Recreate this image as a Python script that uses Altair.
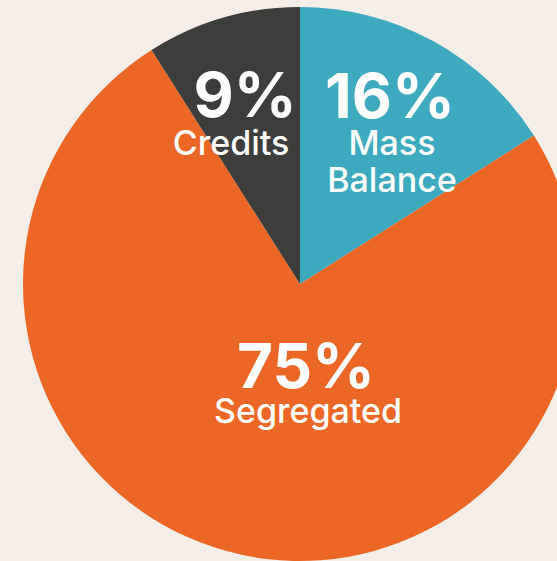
import altair as alt
import pandas as pd

categories = ["Mass Balance", "Segregated", "Credits"]
values = [16, 75, 9]
order = [1, 2, 3]
colors = ["#3DAABF", "#EC6726", "#3D3D3B"]

df = pd.DataFrame({"category": categories, "value": values, "order": order})
df["pct"] = df["value"].astype(str) + "%"

CX, CY, R = 300, 284, 277
FONT = "Inter"

base = alt.Chart(df)

pie = base.mark_arc(radius=R, stroke=None).encode(
    theta=alt.Theta("value:Q", stack=True),
    order=alt.Order("order:Q"),
    color=alt.Color("category:N", scale=alt.Scale(domain=categories, range=colors), legend=None),
    x=alt.value(CX),
    y=alt.value(CY),
)

label_pos = {
    "Credits": dict(px=245, py=117, lx=231, ly=155),
    "Mass Balance": dict(px=390, py=118, lx=392, ly=155),
    "Segregated": dict(px=306, py=388, lx=308, ly=423),
}

layers = [pie]
for cat, p in label_pos.items():
    sub = base.transform_filter(alt.datum.category == cat)
    layers.append(
        sub.mark_text(font=FONT, fontSize=62, fontWeight=700, color="white",
                      align="center", baseline="alphabetic").encode(
            text="pct:N", x=alt.value(p["px"]), y=alt.value(p["py"]))
    )
    layers.append(
        sub.mark_text(font=FONT, fontSize=34, fontWeight=500, color="white",
                      align="center", baseline="alphabetic", lineBreak=" ",
                      lineHeight=37).encode(
            text="category:N", x=alt.value(p["lx"]), y=alt.value(p["ly"]))
    )

chart = alt.layer(*layers).properties(
    width=557, height=561, padding=0, background="#F4EDE8",
    autosize=alt.AutoSizeParams(type="none"),
).configure_view(stroke=None)

chart.save("out.html", embed_options={"renderer": "svg", "actions": False})
